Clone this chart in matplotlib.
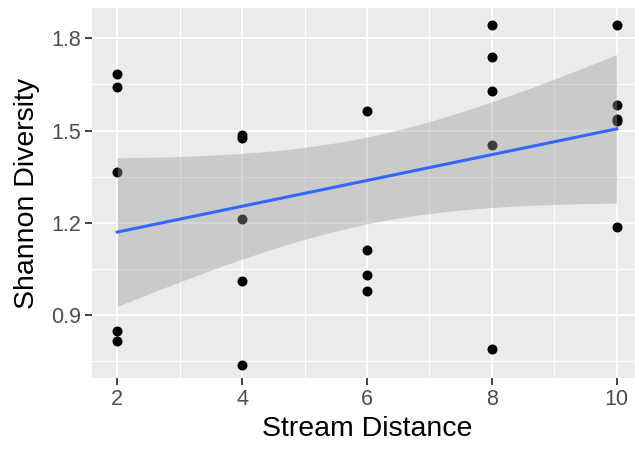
import numpy as np
import matplotlib
matplotlib.use("Agg")
import matplotlib.pyplot as plt
from matplotlib.ticker import MultipleLocator

plt.rcParams['font.family'] = ['Liberation Sans', 'DejaVu Sans']

# values
stream_distance = [2, 2, 2, 2, 2,
                   4, 4, 4, 4, 4,
                   6, 6, 6, 6,
                   8, 8, 8, 8, 8,
                   10, 10, 10, 10, 10]
shannon = [1.684, 1.642, 1.365, 0.848, 0.816,
           1.484, 1.476, 1.213, 1.012, 0.739,
           1.564, 1.112, 1.031, 0.979,
           1.844, 1.739, 1.630, 1.454, 0.790,
           1.844, 1.584, 1.538, 1.532, 1.188]
x_ticks = [2, 4, 6, 8, 10]
y_ticks = [0.9, 1.2, 1.5, 1.8]

x = np.array(stream_distance, dtype=float)
y = np.array(shannon)

# linear fit + 95% confidence band (like geom_smooth(method="lm"))
n = len(x)
slope, intercept = np.polyfit(x, y, 1)
resid = y - (slope * x + intercept)
s = np.sqrt(np.sum(resid ** 2) / (n - 2))
sxx = np.sum((x - x.mean()) ** 2)
t_crit = 2.074  # t(0.975, df=22)
xs = np.linspace(x.min(), x.max(), 80)
fit = slope * xs + intercept
se = s * np.sqrt(1.0 / n + (xs - x.mean()) ** 2 / sxx)

fig = plt.figure(figsize=(6.35, 4.59), dpi=100)
# panel runs a bit past the right edge, as in the cropped original
ax = fig.add_axes([92.3 / 635, (459 - 378) / 459, (641.7 - 92.3) / 635, 370 / 459])
ax.set_facecolor('#EBEBEB')
for sp in ax.spines.values():
    sp.set_visible(False)

ax.xaxis.set_minor_locator(MultipleLocator(1))
ax.yaxis.set_minor_locator(MultipleLocator(0.15))
ax.grid(which='major', color='white', linewidth=1.4)
ax.grid(which='minor', color='white', linewidth=0.7)
ax.set_axisbelow(True)

ax.scatter(x, y, s=52, color='black', zorder=3, linewidths=0)
ax.fill_between(xs, fit - t_crit * se, fit + t_crit * se, color='#999999',
                alpha=0.4, linewidth=0, zorder=4)
ax.plot(xs, fit, color='#3366FF', linewidth=2.2, zorder=5)

ax.set_xlim(1.6, 10.4)
ax.set_ylim(0.6956, 1.8985)
ax.set_xticks(x_ticks)
ax.set_xticklabels([str(v) for v in x_ticks])
ax.set_yticks(y_ticks)
ax.set_yticklabels(["%.1f" % v for v in y_ticks])
ax.tick_params(which='major', length=5, width=1.3, color='#333333',
               labelcolor='#4D4D4D', labelsize=15.5, pad=3)
ax.tick_params(which='minor', length=0)

ax.set_xlabel("Stream Distance", fontsize=20.5, color='black', labelpad=4)
ax.set_ylabel("Shannon Diversity", fontsize=20.5, color='black', labelpad=8)

fig.savefig("out.png", dpi=100)
